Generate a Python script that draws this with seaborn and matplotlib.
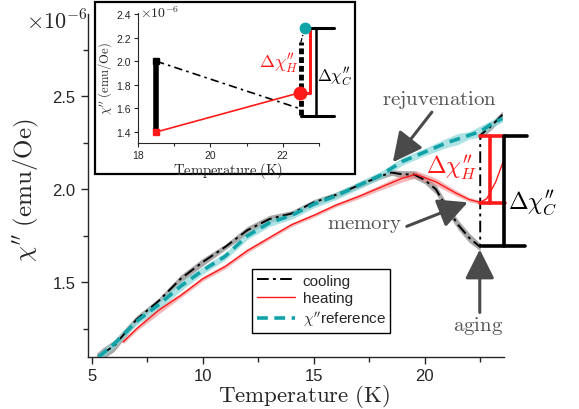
import numpy as np
import pandas as pd
import matplotlib
matplotlib.use("Agg")
import matplotlib.pyplot as plt
import seaborn as sns
from matplotlib.patches import Rectangle

# ---------------- data (chi'' in units of 1e-6 emu/Oe) ----------------
cool_T = [23.5, 23.0, 22.5, 22.5, 22.0, 21.5, 21.0, 20.5, 20.0, 19.5, 19.0, 18.5,
          18.0, 17.0, 16.0, 15.0, 14.0, 13.0, 12.0, 11.0, 10.0, 9.0, 8.0, 7.0,
          6.0, 5.5, 5.2]
cool_chi = [2.40, 2.34, 2.29, 1.69, 1.74, 1.81, 1.90, 2.00, 2.05, 2.08, 2.08, 2.09,
            2.07, 2.02, 1.97, 1.93, 1.87, 1.84, 1.78, 1.69, 1.61, 1.52, 1.40, 1.30,
            1.16, 1.12, 1.09]
cool_err = [0.02, 0.02, 0.02, 0.02, 0.025, 0.025, 0.025, 0.025, 0.02, 0.02, 0.02, 0.015,
            0.015, 0.015, 0.015, 0.015, 0.015, 0.02, 0.02, 0.015, 0.02, 0.02, 0.015, 0.02,
            0.03, 0.03, 0.03]

heat_T = [6.4, 7.0, 8.0, 9.0, 10.0, 11.0, 12.0, 13.0, 14.0, 15.0, 16.0, 17.0,
          18.0, 19.0, 19.6, 20.5, 21.4, 22.0, 22.5, 22.8, 23.2, 23.6]
heat_chi = [1.18, 1.25, 1.35, 1.43, 1.52, 1.585, 1.67, 1.74, 1.81, 1.86, 1.915, 1.96,
            2.01, 2.06, 2.08, 2.04, 1.98, 1.945, 1.93, 1.95, 2.04, 2.17]
heat_err = [0.01, 0.012, 0.02, 0.012, 0.012, 0.012, 0.012, 0.01, 0.01, 0.01, 0.01, 0.012,
            0.015, 0.02, 0.02, 0.02, 0.015, 0.012, 0.01, 0.0, 0.0, 0.0]

ref_T = [5.3, 6.0, 7.0, 8.0, 9.0, 10.0, 11.0, 12.0, 13.0, 14.0, 15.0, 16.0, 17.0,
         18.0, 19.0, 20.0, 21.0, 21.5, 22.0, 22.5, 23.0, 23.5]
ref_chi = [1.10, 1.17, 1.29, 1.38, 1.48, 1.565, 1.64, 1.75, 1.82, 1.86, 1.92, 1.965,
           2.02, 2.075, 2.15, 2.20, 2.25, 2.27, 2.29, 2.31, 2.35, 2.38]
ref_err = [0.02, 0.02, 0.02, 0.025, 0.025, 0.02, 0.02, 0.02, 0.02, 0.02, 0.02, 0.02,
           0.02, 0.02, 0.02, 0.02, 0.025, 0.03, 0.02, 0.03, 0.02, 0.02]

# bracket levels in the main panel
chiC_top, chiC_bot, chiH_bot = 2.285, 1.694, 1.925
T_age = 22.5

# inset data
in_col_T = [18.5, 18.5]
in_col_chi = [1.40, 2.00]
in_cool_T = [18.5, 22.5]
in_cool_chi = [2.00, 1.595]
in_age_T = [22.5, 22.5]
in_age_chi = [1.54, 2.16]
in_tail_T = [22.5, 22.6]
in_tail_chi = [2.16, 2.28]
in_heat_T = [18.5, 22.47]
in_heat_chi = [1.40, 1.733]
in_ref_pt = (22.6, 2.28)
in_C_top, in_C_bot = 2.28, 1.536

main_xticks = [5, 10, 15, 20]
main_yticks = [1.5, 2.0, 2.5]
main_ytick_labels = ["1.5", "2.0", "2.5"]
in_xticks = [18, 20, 22]
in_yticks = [1.4, 1.6, 1.8, 2.0, 2.2, 2.4]
in_ytick_labels = ["1.4", "1.6", "1.8", "2.0", "2.2", "2.4"]

# ---------------- style ----------------
sns.set_style("ticks")
plt.rcParams["font.family"] = ["Liberation Sans", "DejaVu Sans"]
plt.rcParams["font.sans-serif"] = ["Liberation Sans", "DejaVu Sans"]
plt.rcParams["mathtext.fontset"] = "cm"
plt.rcParams["axes.linewidth"] = 1.0

BLACK = "black"
RED = "#ff1a1a"
TEAL = "#12a3a8"
GRAYTXT = "#555555"
ARROW = "#4a4a4a"
SANS = "Liberation Sans"

fig = plt.figure(figsize=(5.79, 4.10), dpi=100)
ax = fig.add_axes([0.152, 0.127, 0.718, 0.836])

cool = pd.DataFrame({"T": cool_T, "chi": cool_chi, "err": cool_err})
heat = pd.DataFrame({"T": heat_T, "chi": heat_chi, "err": heat_err})
ref = pd.DataFrame({"T": ref_T, "chi": ref_chi, "err": ref_err})

# bands
ax.fill_between(cool["T"], cool["chi"] - cool["err"], cool["chi"] + cool["err"],
                color="#8a8a8a", alpha=0.75, lw=0, zorder=1)
ax.fill_between(heat["T"], heat["chi"] - heat["err"], heat["chi"] + heat["err"],
                color="#f08a8a", alpha=0.6, lw=0, zorder=1)
ax.fill_between(ref["T"], ref["chi"] - ref["err"], ref["chi"] + ref["err"],
                color="#8ad8da", alpha=0.7, lw=0, zorder=1.5)

sns.lineplot(data=cool, x="T", y="chi", sort=False, estimator=None, ax=ax,
             color=BLACK, lw=1.4, linestyle=(0, (6, 2.2, 1.5, 2.2)), label="cooling", zorder=3)
sns.lineplot(data=heat, x="T", y="chi", sort=False, estimator=None, ax=ax,
             color=RED, lw=1.0, label="heating", zorder=3)
sns.lineplot(data=ref, x="T", y="chi", sort=False, estimator=None, ax=ax,
             color=TEAL, lw=2.6, linestyle=(0, (3, 1.8)), label=r"$\chi''$reference", zorder=4)

ax.set_xlim(4.82, 23.56)
ax.set_ylim(1.1, 2.94)
ax.set_xticks(main_xticks)
ax.set_xticks([7.5, 12.5, 17.5, 22.5], minor=True)
ax.set_yticks(main_yticks)
ax.set_yticklabels(main_ytick_labels)
ax.set_yticks([1.25, 1.75, 2.25, 2.75], minor=True)
ax.tick_params(which="major", length=5, width=1.0, labelsize=12, pad=4, direction="out")
ax.tick_params(which="minor", length=3.5, width=1.0, direction="out")
ax.tick_params(axis="x", which="major", pad=3)
for lbl in ax.get_xticklabels() + ax.get_yticklabels():
    lbl.set_fontfamily(SANS)
sns.despine(ax=ax)

ax.set_xlabel(r"$\mathrm{Temperature\ (K)}$", fontsize=16.5)
ax.set_ylabel(r"$\chi''\ \mathrm{(emu/Oe)}$", fontsize=18)
ax.xaxis.set_label_coords(0.52, -0.074)
ax.yaxis.set_label_coords(-0.112, 0.49)
fig.text(88 / 579, 1 - 29 / 410, r"$\times10^{-6}$", ha="right", va="baseline", fontsize=16)

leg = ax.legend(loc="lower left", bbox_to_anchor=(0.395, 0.07), frameon=True, fancybox=False,
                edgecolor="black", framealpha=1, fontsize=11, handlelength=2.5,
                labelspacing=0.25, borderpad=0.3, handletextpad=0.5, borderaxespad=0,
                prop={"family": SANS, "size": 11})
leg.get_frame().set_linewidth(1.0)

# brackets in the main panel
ax.plot([T_age, 23.62], [chiC_top, chiC_top], color=RED, lw=2.6, clip_on=False, zorder=5)
ax.plot([T_age, 23.62], [chiH_bot, chiH_bot], color=RED, lw=2.6, clip_on=False, zorder=5)
ax.plot([22.93, 22.93], [chiC_top, chiH_bot], color=RED, lw=2.6, clip_on=False, zorder=5)
ax.plot([23.6, 24.6], [chiC_top, chiC_top], color=BLACK, lw=2.6, clip_on=False, zorder=5)
ax.plot([23.56, 23.56], [chiC_top, chiC_bot], color=BLACK, lw=2.6, clip_on=False, zorder=5)
ax.plot([22.57, 24.5], [chiC_bot, chiC_bot], color=BLACK, lw=2.6, clip_on=False, zorder=5)

ax.text(21.22, 2.124, r"$\Delta\chi^{\prime\prime}_{H}$", color=RED, fontsize=17,
        ha="center", va="center", zorder=6)
ax.text(24.86, 1.935, r"$\Delta\chi^{\prime\prime}_{C}$", color=BLACK, fontsize=17,
        ha="center", va="center", clip_on=False, zorder=6)

arrowprops = dict(arrowstyle="-|>,head_length=0.9,head_width=0.45", lw=2.2, color=ARROW,
                  mutation_scale=20, shrinkA=0, shrinkB=0)
ax.annotate("", xy=(18.56, 2.145), xytext=(20.32, 2.414), arrowprops=arrowprops, zorder=6)
ax.annotate("", xy=(21.94, 1.930), xytext=(19.19, 1.801), arrowprops=arrowprops, zorder=6)
ax.annotate("", xy=(22.48, 1.677), xytext=(22.48, 1.339), arrowprops=arrowprops, zorder=6)
ax.text(20.68, 2.484, r"$\mathrm{rejuvenation}$", color=GRAYTXT, fontsize=15, ha="center", va="center")
ax.text(17.30, 1.812, r"$\mathrm{memory}$", color=GRAYTXT, fontsize=15, ha="center", va="center")
ax.text(22.39, 1.27, r"$\mathrm{aging}$", color=GRAYTXT, fontsize=15, ha="center", va="center")

# ---------------- inset ----------------
box = Rectangle((95 / 579, 1 - 175 / 410), 260 / 579, 172 / 410, transform=fig.transFigure,
                facecolor="white", edgecolor="black", lw=1.6, zorder=1)
fig.patches.append(box)

ax2 = fig.add_axes([138 / 579, 1 - 144 / 410, 181 / 579, 130 / 410])
ax2.set_zorder(2)
ax2.patch.set_alpha(0)

sns.lineplot(x=in_col_T, y=in_col_chi, ax=ax2, color=BLACK, lw=4.0, estimator=None, sort=False)
sns.lineplot(x=in_cool_T, y=in_cool_chi, ax=ax2, color=BLACK, lw=1.2, estimator=None, sort=False,
             linestyle=(0, (5, 2.5, 1.5, 2.5)))
sns.lineplot(x=in_heat_T, y=in_heat_chi, ax=ax2, color=RED, lw=1.2, estimator=None, sort=False)
sns.lineplot(x=in_age_T, y=in_age_chi, ax=ax2, color=BLACK, lw=3.5, estimator=None, sort=False,
             linestyle=(0, (1.2, 0.6)))
sns.lineplot(x=in_tail_T, y=in_tail_chi, ax=ax2, color=BLACK, lw=1.0, estimator=None, sort=False,
             linestyle=(0, (3, 1.5, 1, 1.5)))
ax2.plot([in_col_T[0]], [in_col_chi[1]], marker="s", color=BLACK, ms=4, zorder=4)
ax2.plot([in_col_T[0]], [in_col_chi[0]], marker="s", color=RED, ms=5, zorder=4)
# red bracket
ax2.plot([in_ref_pt[0], 22.75, 22.75, in_heat_T[1]],
         [in_C_top, in_C_top, in_heat_chi[1], in_heat_chi[1]], color=RED, lw=2.2, zorder=4)
# black bracket
ax2.plot([22.78, 23.42], [in_C_top, in_C_top], color=BLACK, lw=2.2, clip_on=False, zorder=4)
ax2.plot([22.92, 22.92], [in_C_top, in_C_bot], color=BLACK, lw=1.8, clip_on=False, zorder=4)
ax2.plot([22.5, 23.42], [in_C_bot, in_C_bot], color=BLACK, lw=2.2, clip_on=False, zorder=4)
ax2.plot([in_heat_T[1]], [in_heat_chi[1]], marker="o", color=RED, ms=9, zorder=5, clip_on=False)
ax2.plot([in_ref_pt[0]], [in_ref_pt[1]], marker="o", color="#10a4a8", ms=7.5, zorder=5, clip_on=False)

ax2.text(22.44, 1.99, r"$\Delta\chi^{\prime\prime}_{H}$", color=RED, fontsize=13, ha="right", va="center")
ax2.text(22.95, 1.875, r"$\Delta\chi^{\prime\prime}_{C}$", color=BLACK, fontsize=12, ha="left",
         va="center", clip_on=False)

ax2.set_xlim(18, 23)
ax2.set_ylim(1.307, 2.408)
ax2.set_xticks(in_xticks)
ax2.set_xticks([19, 21, 23], minor=True)
ax2.set_yticks(in_yticks)
ax2.set_yticklabels(in_ytick_labels)
ax2.tick_params(which="major", length=3, width=0.8, labelsize=7.5, pad=2)
ax2.tick_params(which="minor", length=2, width=0.8)
for lbl in ax2.get_xticklabels() + ax2.get_yticklabels():
    lbl.set_fontfamily(SANS)
for s in ["top", "right"]:
    ax2.spines[s].set_visible(False)
for s in ["left", "bottom"]:
    ax2.spines[s].set_linewidth(0.8)
ax2.set_xlabel(r"$\mathrm{Temperature\ (K)}$", fontsize=10.5, labelpad=0)
ax2.set_ylabel(r"$\chi''\ \mathrm{(emu/Oe)}$", fontsize=9, labelpad=2)
fig.text(140 / 579, 1 - 18 / 410, r"$\times10^{-6}$", ha="left", va="baseline", fontsize=10)

fig.savefig("out.png", dpi=100)
